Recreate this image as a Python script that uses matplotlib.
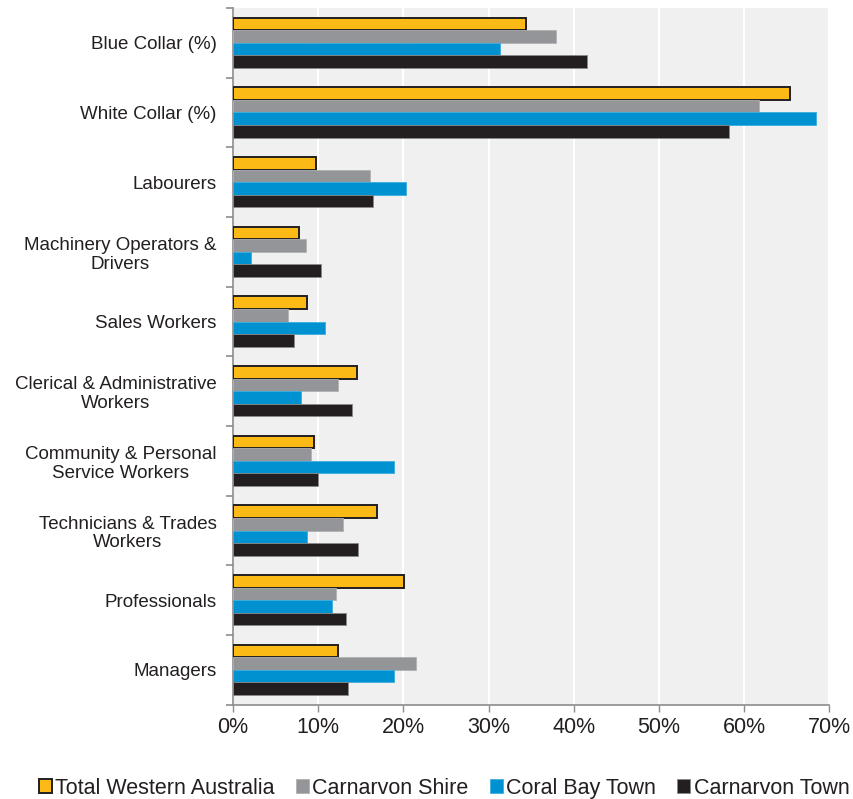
import matplotlib
matplotlib.use('Agg')
import matplotlib.pyplot as plt
from matplotlib.ticker import FuncFormatter
import numpy as np

plt.rcParams['font.family'] = ['Liberation Sans', 'DejaVu Sans']

# occupation categories, top to bottom
categories = [
    'Blue Collar (%)',
    'White Collar (%)',
    'Labourers',
    'Machinery Operators &\nDrivers',
    'Sales Workers',
    'Clerical & Administrative\nWorkers',
    'Community & Personal\nService Workers',
    'Technicians & Trades\nWorkers',
    'Professionals',
    'Managers',
]

series_names = ['Total Western Australia', 'Carnarvon Shire', 'Coral Bay Town', 'Carnarvon Town']

total_wa = [34.4, 65.4, 9.7, 7.7, 8.7, 14.6, 9.5, 16.9, 20.1, 12.3]
carnarvon_shire = [37.9, 61.8, 16.1, 8.6, 6.5, 12.3, 9.1, 12.9, 12.1, 21.5]
coral_bay = [31.3, 68.5, 20.3, 2.1, 10.8, 8.0, 18.9, 8.7, 11.6, 18.9]
carnarvon_town = [41.6, 58.2, 16.4, 10.3, 7.1, 14.0, 10.0, 14.7, 13.2, 13.5]

x_ticks = [0, 10, 20, 30, 40, 50, 60, 70]

colors = ['#FBBA16', '#939598', '#0092D0', '#231F20']
edges = ['#231F20', '#b0b2b4', '#3aaee0', '#8a8a8a']
edge_widths = [1.4, 0.6, 0.6, 0.6]

fig = plt.figure(figsize=(8.54, 7.99), dpi=100)
ax = fig.add_axes([0.273, 0.118, 0.698, 0.872])
ax.set_facecolor('#f0f0f0')

n = len(categories)
y = np.arange(n)
h = 0.18
data = [total_wa, carnarvon_shire, coral_bay, carnarvon_town]
for i, vals in enumerate(data):
    offset = (i - 1.5) * h
    ax.barh(y + offset, vals, height=h, color=colors[i], edgecolor=edges[i],
            linewidth=edge_widths[i], label=series_names[i], zorder=3)

ax.set_xlim(0, 70)
ax.set_ylim(n - 0.5, -0.5)
ax.set_xticks(x_ticks)
ax.xaxis.set_major_formatter(FuncFormatter(lambda v, p: f'{v:.0f}%'))
ax.grid(axis='x', color='white', linewidth=1.5, zorder=1)
ax.set_axisbelow(True)

ax.set_yticks(y)
ax.set_yticklabels(categories, fontsize=13.5, color='#231F20',
                   multialignment='center', linespacing=1.15)
ax.set_yticks(np.arange(-0.5, n, 1), minor=True)
ax.tick_params(axis='y', which='major', length=0, pad=12)
ax.tick_params(axis='y', which='minor', length=5, width=1.2, color='#8c8c8c')
ax.tick_params(axis='x', length=5, width=1, color='#8c8c8c', labelsize=15.5,
               labelcolor='#231F20', pad=4)

for s in ['top', 'right']:
    ax.spines[s].set_visible(False)
for s in ['left', 'bottom']:
    ax.spines[s].set_color('#8c8c8c')
    ax.spines[s].set_linewidth(1.2)

leg = fig.legend(loc='lower center', bbox_to_anchor=(0.52, -0.016), ncol=4,
                 frameon=False, fontsize=15.5, handlelength=0.6, handleheight=0.6,
                 handletextpad=0.15, columnspacing=1.0, borderaxespad=0.2)
for t in leg.get_texts():
    t.set_color('#231F20')

plt.savefig('out.png', dpi=100)
plt.close()
